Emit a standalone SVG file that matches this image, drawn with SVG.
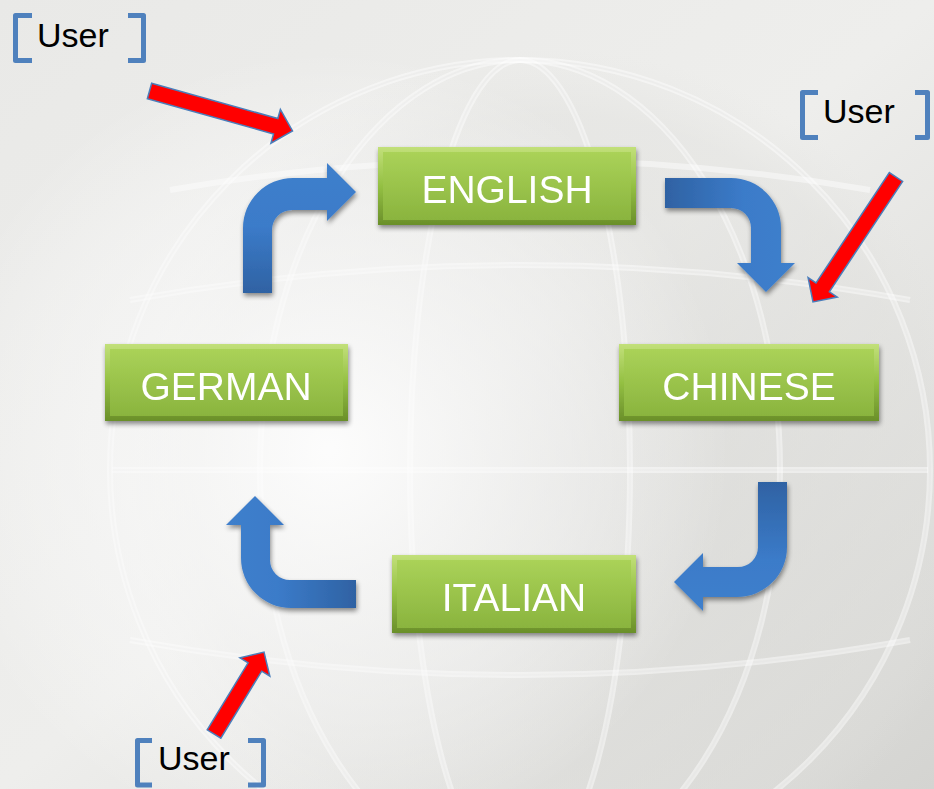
<svg xmlns="http://www.w3.org/2000/svg" width="934" height="789" viewBox="0 0 934 789">
<defs>
  <linearGradient id="bg" x1="0" y1="0" x2="1" y2="1">
    <stop offset="0" stop-color="#e9e9e7"/>
    <stop offset="0.5" stop-color="#eeeeec"/>
    <stop offset="1" stop-color="#d4d4d1"/>
  </linearGradient>
  <radialGradient id="glow" cx="330" cy="450" r="400" gradientUnits="userSpaceOnUse">
    <stop offset="0" stop-color="#ffffff" stop-opacity="0.9"/>
    <stop offset="0.6" stop-color="#fafafa" stop-opacity="0.5"/>
    <stop offset="1" stop-color="#ffffff" stop-opacity="0"/>
  </radialGradient>
  <radialGradient id="globe" cx="560" cy="480" r="430" gradientUnits="userSpaceOnUse">
    <stop offset="0" stop-color="#d6d6d3" stop-opacity="0.6"/>
    <stop offset="0.85" stop-color="#dfdfdc" stop-opacity="0.4"/>
    <stop offset="1" stop-color="#e4e4e1" stop-opacity="0"/>
  </radialGradient>
  <linearGradient id="gEdge" x1="0" y1="0" x2="0" y2="1">
    <stop offset="0" stop-color="#c2e07a"/>
    <stop offset="0.5" stop-color="#94c043"/>
    <stop offset="1" stop-color="#6a8f2a"/>
  </linearGradient>
  <linearGradient id="gFace" x1="0" y1="0" x2="0" y2="1">
    <stop offset="0" stop-color="#aad258"/>
    <stop offset="1" stop-color="#8ab43e"/>
  </linearGradient>
  <linearGradient id="b1" x1="0" y1="293" x2="0" y2="160" gradientUnits="userSpaceOnUse">
    <stop offset="0" stop-color="#2f62a3"/>
    <stop offset="0.5" stop-color="#3b7bc9"/>
    <stop offset="1" stop-color="#3f80cc"/>
  </linearGradient>
  <linearGradient id="b2" x1="665" y1="0" x2="795" y2="0" gradientUnits="userSpaceOnUse">
    <stop offset="0" stop-color="#2f62a3"/>
    <stop offset="0.6" stop-color="#3b7bc9"/>
    <stop offset="1" stop-color="#3f80cc"/>
  </linearGradient>
  <linearGradient id="b3" x1="0" y1="482" x2="0" y2="611" gradientUnits="userSpaceOnUse">
    <stop offset="0" stop-color="#2f62a3"/>
    <stop offset="0.6" stop-color="#3b7bc9"/>
    <stop offset="1" stop-color="#3f80cc"/>
  </linearGradient>
  <linearGradient id="b4" x1="356" y1="0" x2="226" y2="0" gradientUnits="userSpaceOnUse">
    <stop offset="0" stop-color="#2f62a3"/>
    <stop offset="0.6" stop-color="#3b7bc9"/>
    <stop offset="1" stop-color="#3f80cc"/>
  </linearGradient>
  <filter id="sh" x="-10%" y="-10%" width="120%" height="130%">
    <feGaussianBlur in="SourceAlpha" stdDeviation="2.5"/>
    <feOffset dx="1" dy="3" result="o"/>
    <feComponentTransfer><feFuncA type="linear" slope="0.45"/></feComponentTransfer>
    <feMerge><feMergeNode/><feMergeNode in="SourceGraphic"/></feMerge>
  </filter>
</defs>
<style>
  .lbl { font-family: "Liberation Sans", Arial, sans-serif; font-size: 39px; fill: #ffffff; text-anchor: middle; }
  .usr { font-family: "Liberation Sans", Arial, sans-serif; font-size: 34px; fill: #000000; }
  .brk { fill: none; stroke: #4f81bd; stroke-width: 5; stroke-linejoin: round; }
  .red { fill: #ff0000; stroke: #4a7ebb; stroke-width: 1.5; stroke-linejoin: miter; }
  .gl { fill: none; stroke: #ffffff; stroke-width: 6; opacity: 0.45; }
  .gd { fill: none; stroke: #c8c8c5; stroke-width: 2; opacity: 0.35; }
</style>

<!-- background -->
<rect x="0" y="0" width="934" height="789" fill="url(#bg)"/>
<circle cx="560" cy="480" r="430" fill="url(#globe)"/>
<g>
  <ellipse class="gd" cx="520" cy="470" rx="410" ry="410"/>
  <ellipse class="gd" cx="520" cy="470" rx="260" ry="410"/>
  <ellipse class="gd" cx="520" cy="470" rx="110" ry="410"/>
  <path class="gd" d="M130,300 Q520,230 910,300 M112,470 L928,470 M130,640 Q520,710 910,640"/>
  <ellipse class="gl" cx="520" cy="470" rx="410" ry="410"/>
  <ellipse class="gl" cx="520" cy="470" rx="260" ry="410"/>
  <ellipse class="gl" cx="520" cy="470" rx="110" ry="410"/>
  <path class="gl" d="M130,300 Q520,230 910,300 M112,470 L928,470 M130,640 Q520,710 910,640 M170,190 Q520,130 870,190"/>
</g>
<rect x="0" y="0" width="934" height="789" fill="url(#glow)"/>

<!-- connectors -->
<g id="connectors">
  <g filter="url(#sh)">
    <path id="arrow-german-english" fill="url(#b1)" d="M243,293 L243,228 A50,50 0 0 1 293,178 L327,178 L327,163 L356,192 L327,221 L327,210 L292,210 A20,20 0 0 0 272,230 L272,293 Z"/>
    <path id="arrow-english-chinese" fill="url(#b2)" d="M665,178 L731,178 A50,50 0 0 1 781,228 L781,263 L795,263 L766,292 L737,263 L751,263 L751,228 A20,20 0 0 0 731,208 L665,208 Z"/>
    <path id="arrow-chinese-italian" fill="url(#b3)" d="M758,482 L787,482 L787,547 A50,50 0 0 1 737,597 L703,597 L703,611 L674,582 L703,553 L703,567 L738,567 A20,20 0 0 0 758,547 Z"/>
    <path id="arrow-italian-german" fill="url(#b4)" d="M356,580 L290,580 A20,20 0 0 1 270,560 L270,525 L284,525 L255,496 L226,525 L241,525 L241,558 A50,50 0 0 0 291,608 L356,608 Z"/>
  </g>
  <polygon class="red" transform="translate(149.5,91) rotate(15.6)" points="0,-8 131,-8 131,-17.5 148.5,0 131,17.5 131,8 0,8"/>
  <polygon class="red" transform="translate(896,177) rotate(123.6)" points="0,-8 132.5,-8 132.5,-17.5 150,0 132.5,17.5 132.5,8 0,8"/>
  <polygon class="red" transform="translate(214,734) rotate(-58.6)" points="0,-8 78.5,-8 78.5,-17.5 96,0 78.5,17.5 78.5,8 0,8"/>
</g>

<!-- nodes -->
<g id="node-english" filter="url(#sh)">
  <rect x="378" y="147" width="258" height="78" fill="url(#gEdge)"/>
  <rect x="383" y="152" width="248" height="68" fill="url(#gFace)"/>
  <text class="lbl" x="507" y="203">ENGLISH</text>
</g>
<g id="node-german" filter="url(#sh)">
  <rect x="105" y="344" width="243" height="77" fill="url(#gEdge)"/>
  <rect x="110" y="349" width="233" height="67" fill="url(#gFace)"/>
  <text class="lbl" x="226" y="400">GERMAN</text>
</g>
<g id="node-chinese" filter="url(#sh)">
  <rect x="619" y="344" width="260" height="77" fill="url(#gEdge)"/>
  <rect x="624" y="349" width="250" height="67" fill="url(#gFace)"/>
  <text class="lbl" x="749" y="400">CHINESE</text>
</g>
<g id="node-italian" filter="url(#sh)">
  <rect x="392" y="555" width="244" height="78" fill="url(#gEdge)"/>
  <rect x="397" y="560" width="234" height="68" fill="url(#gFace)"/>
  <text class="lbl" x="514" y="611">ITALIAN</text>
</g>

<!-- user labels -->
<g id="user-topleft">
  <path class="brk" d="M32,15.5 L15.5,15.5 L15.5,60.5 L32,60.5"/>
  <path class="brk" d="M128,15.5 L143.5,15.5 L143.5,60.5 L128,60.5"/>
  <text class="usr" x="37" y="47">User</text>
</g>
<g id="user-topright">
  <path class="brk" d="M818,92.5 L802.5,92.5 L802.5,137.5 L818,137.5"/>
  <path class="brk" d="M915,92.5 L927.5,92.5 L927.5,137.5 L915,137.5"/>
  <text class="usr" x="823" y="123">User</text>
</g>
<g id="user-bottom">
  <path class="brk" d="M152,740.5 L137.5,740.5 L137.5,785 L152,785"/>
  <path class="brk" d="M248,740.5 L263.5,740.5 L263.5,785 L248,785"/>
  <text class="usr" x="158" y="770">User</text>
</g>
</svg>
